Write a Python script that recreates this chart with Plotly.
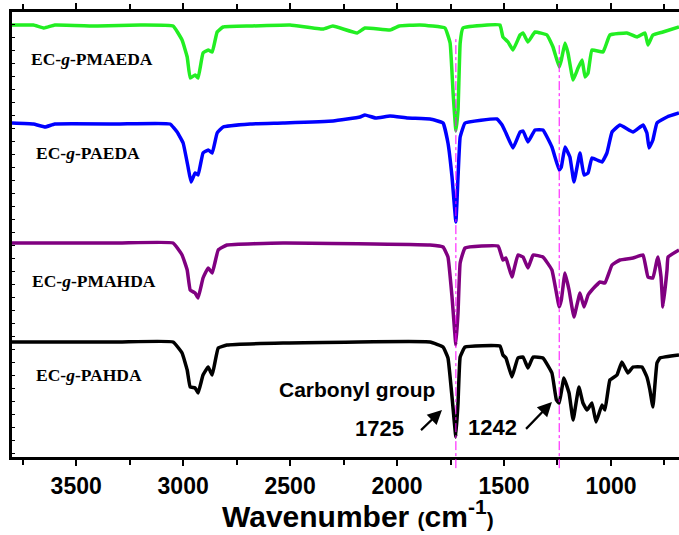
import plotly.graph_objects as go

# ---- data (wavenumber in cm-1, offset transmittance in arbitrary units) ----
pmaeda_wn = [3800, 3700, 3650, 3600, 3400, 3200, 3047, 3005, 2981, 2967, 2944, 2930, 2907, 2883, 2864,
             2841, 2813, 2687, 2500, 2346, 2300, 2187, 2150, 2033, 1990, 1893, 1776, 1752, 1738, 1725,
             1715, 1705, 1692, 1579, 1519, 1505, 1481, 1458, 1425, 1411, 1388, 1355, 1299, 1271, 1242,
             1232, 1215, 1201, 1177, 1154, 1135, 1121, 1107, 1089, 1037, 1005, 925, 878, 841, 827,
             804, 757, 682]
pmaeda_t = [432, 432, 429, 432, 431, 432, 431, 417, 400, 379, 382, 379, 404, 407, 405,
            425, 430, 431, 432, 428, 431, 424, 429, 427, 431, 432, 429, 414, 364, 326,
            347, 414, 429, 432, 432, 420, 415, 407, 422, 424, 415, 425, 422, 410, 390,
            397, 414, 404, 377, 389, 397, 380, 384, 407, 405, 422, 424, 420, 424, 412,
            422, 425, 430]

paeda_wn = [3800, 3700, 3645, 3600, 3300, 3061, 3028, 3000, 2977, 2963, 2944, 2930, 2907, 2883, 2864,
            2841, 2813, 2687, 2533, 2299, 2173, 2150, 2100, 2033, 1950, 1846, 1785, 1762, 1743, 1725,
            1715, 1705, 1682, 1533, 1509, 1491, 1458, 1425, 1411, 1388, 1355, 1318, 1276, 1242, 1232,
            1215, 1192, 1173, 1145, 1126, 1107, 1089, 1042, 1019, 995, 958, 897, 850, 832, 822,
            804, 785, 738, 682]
paeda_t = [334, 333, 330, 333, 333, 333, 325, 314, 290, 275, 284, 282, 304, 307, 304,
           324, 330, 333, 334, 336, 340, 342, 339, 341, 339, 338, 334, 314, 280, 235,
           280, 320, 334, 338, 332, 324, 309, 325, 326, 315, 327, 327, 310, 287, 290,
           310, 300, 275, 304, 282, 284, 299, 295, 304, 325, 332, 325, 332, 324, 309,
           317, 334, 340, 344]

pmahda_wn = [3800, 3300, 3047, 3005, 2981, 2967, 2944, 2930, 2907, 2883, 2864, 2836, 2795, 2533, 1846,
             1785, 1762, 1743, 1725, 1715, 1705, 1682, 1528, 1505, 1491, 1463, 1435, 1411, 1388, 1364,
             1318, 1276, 1242, 1232, 1215, 1196, 1173, 1145, 1126, 1107, 1089, 1051, 1028, 995, 958,
             897, 850, 827, 804, 785, 780, 766, 757, 738, 733, 682]
pmahda_t = [214, 214, 214, 202, 187, 167, 164, 159, 179, 189, 184, 207, 212, 214, 212,
            210, 200, 160, 112, 144, 194, 209, 211, 197, 199, 180, 202, 200, 189, 202,
            200, 187, 150, 157, 184, 167, 140, 164, 150, 162, 167, 175, 174, 192, 197,
            199, 202, 180, 179, 197, 200, 180, 150, 187, 200, 207]

pahda_wn = [3800, 3300, 3047, 3005, 2981, 2967, 2944, 2930, 2907, 2883, 2864, 2836, 2795, 2533, 1846,
            1785, 1762, 1743, 1725, 1715, 1705, 1682, 1519, 1505, 1491, 1463, 1435, 1411, 1388, 1364,
            1318, 1276, 1255, 1242, 1220, 1196, 1177, 1150, 1131, 1112, 1089, 1070, 1042, 1028, 1005,
            972, 949, 921, 897, 855, 832, 818, 804, 785, 771, 682]
pahda_t = [115, 115, 115, 104, 87, 70, 69, 64, 82, 90, 82, 109, 112, 114, 115,
           110, 99, 60, 20, 54, 100, 110, 111, 102, 99, 80, 99, 100, 89, 100,
           99, 84, 57, 54, 79, 64, 37, 70, 54, 47, 54, 35, 52, 47, 77,
           82, 95, 84, 90, 90, 80, 67, 50, 94, 99, 102]

series_names = ["EC-<i>g</i>-PMAEDA", "EC-<i>g</i>-PAEDA", "EC-<i>g</i>-PMAHDA", "EC-<i>g</i>-PAHDA"]
series_colors = ["#22ee22", "#0000ff", "#800080", "#000000"]
marked_bands = [1725, 1242]
x_ticks = [3500, 3000, 2500, 2000, 1500, 1000]

fig = go.Figure()
for wn, t, name, col in zip([pmaeda_wn, paeda_wn, pmahda_wn, pahda_wn],
                            [pmaeda_t, paeda_t, pmahda_t, pahda_t],
                            series_names, series_colors):
    fig.add_trace(go.Scatter(x=wn, y=t, mode="lines", name=name,
                             line=dict(color=col, width=3.5, shape="spline", smoothing=0.3),
                             showlegend=False))

# dashed marker lines
for band, top in zip(marked_bands, [0.9416, 0.926]):
    fig.add_shape(type="line", xref="x", yref="paper", x0=band, x1=band, y0=-0.025, y1=top,
                  line=dict(color="#ff00ff", width=1, dash="dashdot"), layer="above")

serif = "Liberation Serif, Times New Roman, serif"
sans = "Liberation Sans, Arial, sans-serif"

label_pos = [(3428, 398.5), (3445, 304.5), (3417, 176), (3438, 82.5)]
for name, (lx, ly) in zip(series_names, label_pos):
    fig.add_annotation(x=lx, y=ly, text="<b>" + name + "</b>", showarrow=False,
                       xanchor="center", yanchor="middle",
                       font=dict(family=serif, size=17.5, color="black"))

fig.add_annotation(x=2187, y=68, text="<b>Carbonyl group</b>", showarrow=False,
                   xanchor="center", yanchor="middle", font=dict(family=sans, size=21, color="black"))
fig.add_annotation(x=2084, y=29, text="<b>1725</b>", showarrow=False,
                   xanchor="center", yanchor="middle", font=dict(family=sans, size=22, color="black"))
fig.add_annotation(x=1554, y=30, text="<b>1242</b>", showarrow=False,
                   xanchor="center", yanchor="middle", font=dict(family=sans, size=22, color="black"))

# arrows
for (hx, hy, tx, ty) in [(1790, 47, 1902, 24), (1276, 55, 1411, 25)]:
    fig.add_annotation(x=hx, y=hy, ax=tx, ay=ty, xref="x", yref="y", axref="x", ayref="y",
                       text=" ", showarrow=True, arrowhead=2, arrowsize=1.3, arrowwidth=2.2,
                       arrowcolor="black", standoff=0, startstandoff=0)

fig.add_annotation(xref="paper", yref="paper", x=0.518, y=-0.128, xanchor="center", yanchor="middle",
                   showarrow=False,
                   text='<b>Wavenumber <span style="font-size:21px">(</span>cm<sup>-1</sup>'
                        '<span style="font-size:21px">)</span></b>',
                   font=dict(family=sans, size=30, color="black"))

fig.update_layout(
    width=679, height=535,
    margin=dict(l=12, r=0, t=12, b=78),
    paper_bgcolor="white", plot_bgcolor="white",
    xaxis=dict(range=[3800, 682], tickvals=x_ticks, ticktext=["<b>%d</b>" % v for v in x_ticks],
               ticks="outside", ticklen=6, tickwidth=2, tickcolor="black",
               minor=dict(ticks="outside", ticklen=5, tickwidth=2, dtick=250, tick0=0, tickcolor="black"),
               showline=True, linewidth=3, linecolor="black", mirror="allticks",
               showgrid=False, zeroline=False,
               tickfont=dict(family=sans, size=23, color="black"),
               ticklabelstandoff=0),
    yaxis=dict(range=[0, 445], showticklabels=False, ticks="inside", ticklen=3, tickwidth=1,
               tickcolor="black", dtick=13, tick0=4,
               showline=True, linewidth=3, linecolor="black", mirror=False,
               showgrid=False, zeroline=False),
)

fig.write_html("out.html")
